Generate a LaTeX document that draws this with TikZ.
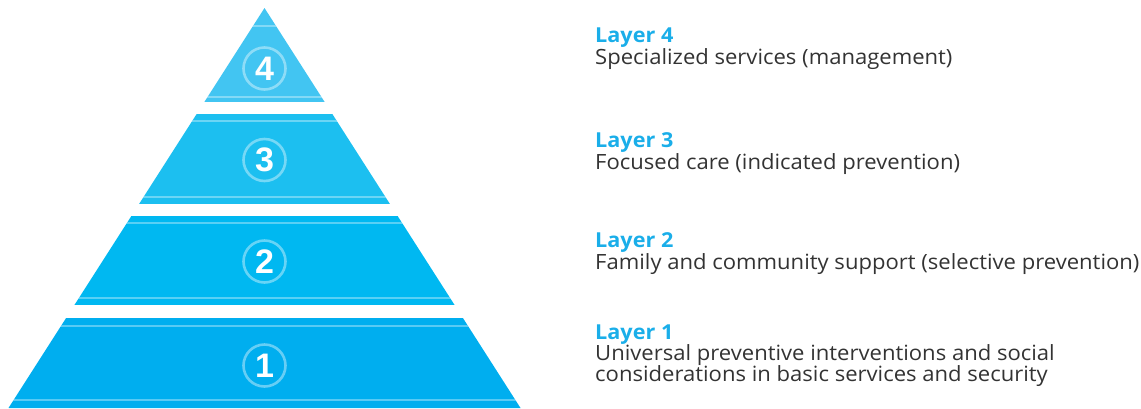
\documentclass[tikz,border=0pt]{standalone}
\usepackage{fontspec}
\setmainfont{Open Sans}
\setsansfont{Open Sans}
\newfontfamily\bodyfont[FakeStretch=1.05]{Open Sans}
\newfontfamily\numfont{Liberation Sans}
\definecolor{cLfour}{HTML}{42C5F2}
\definecolor{cLthree}{HTML}{1CBFF0}
\definecolor{cLtwo}{HTML}{00B8F1}
\definecolor{cLone}{HTML}{00AEEF}
\definecolor{headc}{HTML}{1AAEE9}
\definecolor{bodyc}{HTML}{333333}
\tikzset{
  hiline/.style={white, opacity=0.35, line width=1.6pt},
  numring/.style={circle, draw=white, draw opacity=0.4, line width=2.6pt, minimum size=42pt, inner sep=0pt, text=white, font=\numfont\fontsize{34}{34}\selectfont\bfseries},
  headtxt/.style={anchor=base west, inner sep=0pt, text=headc, font=\bodyfont\fontsize{20.6}{22}\selectfont\bfseries},
  bodytxt/.style={anchor=base west, inner sep=0pt, text=bodyc, align=left, font=\bodyfont\fontsize{21}{21.7}\selectfont},
}
\begin{document}
\begin{tikzpicture}[x=1pt,y=-1pt]
\useasboundingbox (0,0) rectangle (1141,408);
\begin{scope}
  \clip (264.5,8) -- (8.5,408) -- (520.5,408) -- cycle;
  \fill[cLfour] (0,8) rectangle (600,102);
  \fill[cLthree] (0,114) rectangle (600,203.5);
  \fill[cLtwo] (0,216) rectangle (600,305);
  \fill[cLone] (0,318) rectangle (600,410);
  \foreach \yy in {26,97,121,197,223,298,326,400}
    \draw[hiline] (0,\yy) -- (600,\yy);
\end{scope}
\node[numring] (n4) at (264.5,68.5) {4};
\node[numring] (n3) at (264.5,160) {3};
\node[numring] (n2) at (264.5,261.5) {2};
\node[numring] (n1) at (264.5,365.5) {1};
\node[headtxt] (h4) at (595,42.5) {Layer 4};
\node[bodytxt] (b4) at (595,64.5) {Specialized services (management)};
\node[headtxt] (h3) at (595,147.5) {Layer 3};
\node[bodytxt] (b3) at (595,169.5) {Focused care (indicated prevention)};
\node[headtxt] (h2) at (595,247.5) {Layer 2};
\node[bodytxt] (b2) at (595,269.5) {Family and community support (selective prevention)};
\node[headtxt] (h1) at (595,339.5) {Layer 1};
\node[bodytxt, anchor=north west] (b1) at (595,344) {Universal preventive interventions and social\\considerations in basic services and security};
\end{tikzpicture}
\end{document}
